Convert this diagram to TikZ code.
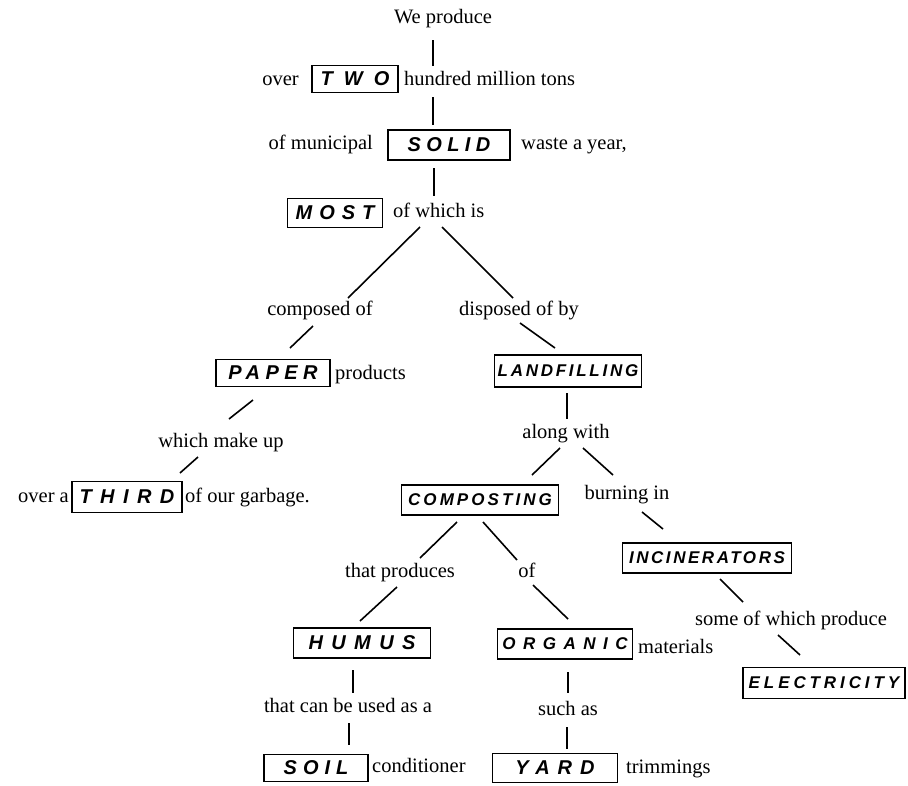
\documentclass[tikz,border=0pt]{standalone}
\usepackage{fontspec}
\setmainfont{Liberation Serif}
\newfontfamily\hand{Liberation Sans}
\newcommand\hw[3]{{\fontsize{#1}{#1}\selectfont\hand\bfseries\itshape\addfontfeatures{LetterSpace=#2}#3}}
\begin{document}
\begin{tikzpicture}[x=1pt,y=-1pt,
  txt/.style={inner sep=0pt, font=\fontsize{20.5}{24}\selectfont, text height=14pt, text depth=4pt},
  hbox/.style={draw, line width=1.6pt, inner sep=0pt},
  conn/.style={line width=1.6pt}]
\useasboundingbox (0,0) rectangle (908,785);
% boxes
\node[hbox, minimum width=86pt, minimum height=27pt] (two) at (355,79) {\hw{20}{55}{TWO}};
\node[hbox, minimum width=122pt, minimum height=30pt] (solid) at (449,145) {\hw{20}{27}{SOLID}};
\node[hbox, minimum width=95pt, minimum height=29pt] (most) at (335,213) {\hw{20}{35}{MOST}};
\node[hbox, minimum width=114pt, minimum height=27pt] (paper) at (273,373) {\hw{20}{27}{PAPER}};
\node[hbox, minimum width=147pt, minimum height=32pt] (landfilling) at (568,371) {\hw{17}{16}{LANDFILLING}};
\node[hbox, minimum width=110pt, minimum height=31pt] (third) at (127,497) {\hw{20}{42}{THIRD}};
\node[hbox, minimum width=157pt, minimum height=30pt] (composting) at (480,500) {\hw{17}{18}{COMPOSTING}};
\node[hbox, minimum width=169pt, minimum height=30pt] (incinerators) at (707,558) {\hw{17}{15}{INCINERATORS}};
\node[hbox, minimum width=137pt, minimum height=30pt] (humus) at (362,643) {\hw{20}{42}{HUMUS}};
\node[hbox, minimum width=135pt, minimum height=30pt] (organic) at (565,644) {\hw{17}{44}{ORGANIC}};
\node[hbox, minimum width=162pt, minimum height=31pt] (electricity) at (824,683) {\hw{17}{23}{ELECTRICITY}};
\node[hbox, minimum width=104pt, minimum height=27pt] (soil) at (316,768) {\hw{20}{30}{SOIL}};
\node[hbox, minimum width=125pt, minimum height=29pt] (yard) at (555,768) {\hw{20}{40}{YARD}};
% texts
\node[txt] (weproduce) at (443,18) {We produce};
\node[txt, anchor=east] (over) at (299,80) {over};
\node[txt, anchor=west] (hundred) at (404,80) {hundred million tons};
\node[txt, anchor=east] (municipal) at (373,144) {of municipal};
\node[txt, anchor=west] (waste) at (521,144) {waste a year,};
\node[txt, anchor=west] (ofwhich) at (393,212) {of which is};
\node[txt] (composed) at (320,310) {composed of};
\node[txt] (disposed) at (519,310) {disposed of by};
\node[txt, anchor=west] (products) at (335,374) {products};
\node[txt] (makeup) at (221,442) {which make up};
\node[txt, anchor=east] (overa) at (69,497) {over a};
\node[txt, anchor=west] (garbage) at (185,497) {of our garbage.};
\node[txt] (alongwith) at (566,433) {along with};
\node[txt] (burning) at (627,494) {burning in};
\node[txt] (produces) at (400,572) {that produces};
\node[txt] (of) at (527,572) {of};
\node[txt, anchor=west] (materials) at (638,648) {materials};
\node[txt] (someof) at (791,620) {some of which produce};
\node[txt] (canbe) at (348,707) {that can be used as a};
\node[txt] (suchas) at (568,710) {such as};
\node[txt, anchor=west] (conditioner) at (372,767) {conditioner};
\node[txt, anchor=west] (trimmings) at (626,768) {trimmings};
% connector end points
\coordinate (a1) at (433,40);  \coordinate (b1) at (433,66);
\coordinate (a2) at (433,97);  \coordinate (b2) at (433,125);
\coordinate (a3) at (434,168); \coordinate (b3) at (434,196);
\coordinate (a4) at (420,227); \coordinate (b4) at (348,298);
\coordinate (a5) at (442,227); \coordinate (b5) at (513,298);
\coordinate (a6) at (313,326); \coordinate (b6) at (290,348);
\coordinate (a7) at (520,323); \coordinate (b7) at (555,348);
\coordinate (a8) at (253,400); \coordinate (b8) at (229,419);
\coordinate (a9) at (198,457); \coordinate (b9) at (180,473);
\coordinate (a10) at (567,393); \coordinate (b10) at (567,419);
\coordinate (a11) at (560,448); \coordinate (b11) at (532,475);
\coordinate (a12) at (583,448); \coordinate (b12) at (613,475);
\coordinate (a13) at (457,522); \coordinate (b13) at (420,558);
\coordinate (a14) at (483,522); \coordinate (b14) at (517,560);
\coordinate (a15) at (642,512); \coordinate (b15) at (663,529);
\coordinate (a16) at (397,587); \coordinate (b16) at (360,621);
\coordinate (a17) at (533,585); \coordinate (b17) at (568,619);
\coordinate (a18) at (720,579); \coordinate (b18) at (743,602);
\coordinate (a19) at (778,635); \coordinate (b19) at (800,655);
\coordinate (a20) at (353,670); \coordinate (b20) at (353,693);
\coordinate (a21) at (349,723); \coordinate (b21) at (349,745);
\coordinate (a22) at (568,672); \coordinate (b22) at (568,693);
\coordinate (a23) at (567,727); \coordinate (b23) at (567,749);
\foreach \i in {1,...,23} {\draw[conn] (a\i) -- (b\i);}
\end{tikzpicture}
\end{document}
